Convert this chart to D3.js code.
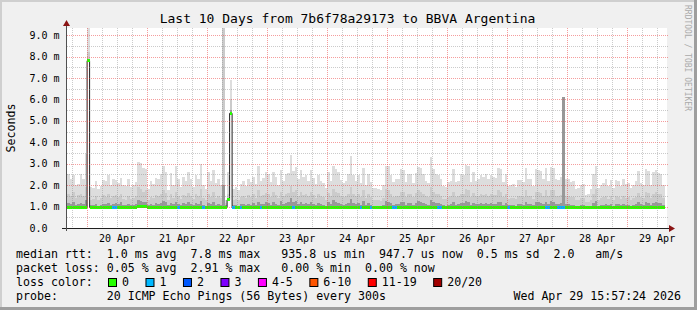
<!DOCTYPE html>
<html>
<head>
<meta charset="utf-8">
<script src="https://cdn.jsdelivr.net/npm/d3@7"></script>
<style>
  html, body { margin: 0; padding: 0; background: #f0f0f0; }
  svg { display: block; font-family: "DejaVu Sans Mono", monospace; }
  .pre { white-space: pre; }
</style>
</head>
<body>
<svg id="chart" width="697" height="310"></svg>
<script>
// Smokeping graph: last 10 days, 1 hour bins (values in ms)
const startTime = Date.UTC(2026, 3, 19, 15, 57, 24);
const endTime = Date.UTC(2026, 3, 29, 15, 57, 24);
const firstBin = Date.UTC(2026, 3, 19, 16, 0, 0);
const binMs = 3600 * 1000;

// top of the outer smoke band (max ping), one row per day
const smokeMax = [
  2.5, 2.3, 2.45, 2.0, 2.05, 2.5, 2.3, 3.45, 9.4, 1.92, 1.85, 2.2, 1.8, 1.95, 2.25, 2.2, 2.45, 2.0, 2.3, 2.25, 2.1, 2.35, 2.0, 1.95,
  2.3, 1.9, 2.0, 2.15, 3.1, 3.05, 2.8, 2.75, 1.8, 2.2, 2.05, 2.35, 2.3, 2.5, 2.9, 2.6, 1.75, 2.55, 2.0, 2.9, 2.3, 1.9, 2.4, 2.2,
  2.6, 2.3, 1.9, 2.45, 2.3, 3.0, 2.0, 1.8, 2.6, 2.2, 2.7, 2.1, 2.3, 2.0, 9.4, 1.3, 2.6, 6.9, 1.8, 1.9, 1.75, 2.05, 2.2, 1.95,
  2.3, 2.15, 2.4, 2.05, 2.9, 2.2, 2.35, 2.6, 2.5, 2.15, 2.6, 2.4, 2.0, 2.7, 2.2, 2.5, 2.55, 3.4, 2.65, 2.85, 2.3, 2.7, 2.4, 2.45,
  2.2, 2.7, 2.35, 2.05, 2.45, 2.2, 2.1, 1.85, 2.6, 2.2, 2.9, 2.75, 2.6, 2.25, 2.1, 2.2, 2.5, 3.35, 2.45, 2.2, 2.45, 2.1, 2.8, 2.0,
  2.5, 2.15, 1.85, 1.85, 1.8, 1.75, 2.0, 2.9, 2.9, 2.45, 2.15, 2.3, 2.3, 2.75, 2.7, 2.15, 2.5, 2.5, 2.1, 2.55, 2.85, 2.8, 2.5, 2.2,
  2.1, 3.3, 2.75, 2.5, 2.45, 2.3, 1.95, 1.9, 2.15, 2.2, 2.75, 2.15, 2.2, 2.5, 2.45, 2.95, 2.9, 2.15, 2.6, 2.2, 2.3, 2.45, 2.4, 2.5,
  2.3, 2.45, 2.4, 2.35, 2.8, 2.75, 2.15, 2.5, 1.95, 2.0, 2.05, 1.9, 2.25, 2.25, 2.15, 2.8, 2.3, 2.3, 1.95, 2.75, 2.7, 2.65, 2.3, 2.8,
  2.2, 2.85, 2.8, 2.3, 2.25, 2.4, 6.1, 2.3, 2.3, 2.15, 2.2, 1.8, 1.85, 2.0, 2.05, 1.55, 1.6, 1.8, 2.5, 2.9, 1.85, 2.0, 2.1, 2.3,
  1.95, 2.25, 1.85, 2.25, 2.2, 1.95, 2.3, 2.05, 2.1, 1.85, 2.0, 2.2, 2.65, 2.1, 2.0, 2.75, 2.65, 2.0, 2.6, 2.7, 2.55, 2.5, 2.0
];

// top of the second smoke band
const smokeMid = [
  1.6, 1.5, 1.7, 1.4, 1.55, 1.6, 1.5, 1.9, 8.2, 1.3, 1.35, 1.5, 1.3, 1.4, 1.55, 1.45, 1.6, 1.4, 1.5, 1.55, 1.45, 1.6, 1.35, 1.3,
  1.5, 1.35, 1.4, 1.5, 1.9, 1.8, 1.7, 1.75, 1.3, 1.45, 1.4, 1.55, 1.5, 1.6, 1.75, 1.65, 1.3, 1.6, 1.4, 1.7, 1.5, 1.35, 1.55, 1.5,
  1.65, 1.5, 1.35, 1.6, 1.5, 1.8, 1.4, 1.3, 1.6, 1.45, 1.7, 1.4, 1.5, 1.4, 9.4, 1.15, 1.6, 6.0, 1.3, 1.35, 1.3, 1.45, 1.5, 1.4,
  1.55, 1.45, 1.6, 1.4, 1.75, 1.5, 1.55, 1.65, 1.6, 1.45, 1.7, 1.55, 1.4, 1.7, 1.5, 1.6, 1.65, 1.95, 1.7, 1.75, 1.5, 1.7, 1.55, 1.6,
  1.5, 1.7, 1.55, 1.4, 1.6, 1.5, 1.45, 1.3, 1.65, 1.5, 1.8, 1.7, 1.65, 1.5, 1.45, 1.5, 1.6, 1.9, 1.6, 1.5, 1.6, 1.45, 1.75, 1.4,
  1.6, 1.45, 1.3, 1.3, 1.3, 1.25, 1.4, 1.8, 1.75, 1.6, 1.45, 1.5, 1.5, 1.7, 1.7, 1.45, 1.6, 1.6, 1.45, 1.65, 1.75, 1.7, 1.6, 1.5,
  1.45, 1.9, 1.7, 1.6, 1.6, 1.5, 1.35, 1.35, 1.45, 1.5, 1.7, 1.45, 1.5, 1.6, 1.6, 1.8, 1.75, 1.45, 1.65, 1.5, 1.5, 1.6, 1.55, 1.6,
  1.5, 1.6, 1.55, 1.55, 1.75, 1.7, 1.45, 1.6, 1.35, 1.4, 1.4, 1.35, 1.5, 1.5, 1.45, 1.75, 1.5, 1.5, 1.35, 1.7, 1.7, 1.65, 1.5, 1.75,
  1.5, 1.75, 1.75, 1.5, 1.5, 1.55, 6.1, 1.5, 1.5, 1.45, 1.45, 1.3, 1.3, 1.4, 1.4, 1.2, 1.2, 1.3, 1.6, 1.8, 1.3, 1.4, 1.45, 1.5,
  1.35, 1.5, 1.3, 1.5, 1.45, 1.35, 1.5, 1.4, 1.45, 1.3, 1.4, 1.45, 1.65, 1.45, 1.4, 1.7, 1.65, 1.4, 1.6, 1.7, 1.6, 1.6, 1.4
];

// top of the inner (darkest) smoke band
const smokeCore = [
  1.15, 1.1, 1.2, 1.05, 1.1, 1.15, 1.1, 1.3, 7.9, 1.05, 1.05, 1.1, 1.0, 1.05, 1.1, 1.1, 1.15, 1.05, 1.1, 1.15, 1.1, 1.2, 1.05, 1.05,
  1.1, 1.05, 1.05, 1.1, 1.3, 1.25, 1.2, 1.2, 1.05, 1.1, 1.05, 1.15, 1.1, 1.15, 1.25, 1.2, 1.05, 1.15, 1.1, 1.2, 1.1, 1.05, 1.15, 1.1,
  1.2, 1.1, 1.05, 1.15, 1.1, 1.25, 1.05, 1.0, 1.15, 1.1, 1.2, 1.05, 1.1, 1.05, 2.0, 1.05, 1.4, 5.5, 1.05, 1.05, 1.0, 1.1, 1.1, 1.05,
  1.1, 1.05, 1.15, 1.05, 1.2, 1.1, 1.1, 1.2, 1.15, 1.05, 1.2, 1.1, 1.05, 1.25, 1.1, 1.15, 1.2, 1.4, 1.2, 1.25, 1.1, 1.2, 1.1, 1.15,
  1.1, 1.2, 1.1, 1.05, 1.15, 1.1, 1.05, 1.0, 1.2, 1.1, 1.3, 1.2, 1.15, 1.1, 1.05, 1.1, 1.15, 1.35, 1.15, 1.1, 1.15, 1.05, 1.25, 1.05,
  1.15, 1.05, 1.0, 1.0, 1.0, 1.0, 1.05, 1.25, 1.2, 1.15, 1.05, 1.1, 1.1, 1.2, 1.2, 1.05, 1.15, 1.15, 1.05, 1.15, 1.25, 1.2, 1.15, 1.1,
  1.05, 1.3, 1.2, 1.15, 1.15, 1.1, 1.05, 1.0, 1.05, 1.1, 1.2, 1.05, 1.1, 1.15, 1.15, 1.25, 1.2, 1.05, 1.15, 1.1, 1.1, 1.15, 1.1, 1.15,
  1.1, 1.15, 1.1, 1.1, 1.2, 1.2, 1.05, 1.15, 1.05, 1.05, 1.05, 1.0, 1.1, 1.1, 1.05, 1.2, 1.1, 1.1, 1.05, 1.2, 1.2, 1.15, 1.1, 1.2,
  1.1, 1.25, 1.2, 1.1, 1.1, 1.15, 6.1, 1.1, 1.1, 1.05, 1.05, 1.0, 1.0, 1.05, 1.05, 1.0, 1.0, 1.0, 1.15, 1.25, 1.0, 1.05, 1.05, 1.1,
  1.05, 1.1, 1.0, 1.1, 1.1, 1.05, 1.1, 1.05, 1.05, 1.0, 1.05, 1.1, 1.2, 1.1, 1.05, 1.2, 1.15, 1.05, 1.15, 1.2, 1.15, 1.15, 1.05
];

// median rtt per bin
const medianRtt = [
  0.95, 0.95, 0.95, 0.95, 0.95, 0.95, 0.95, 0.95, 7.8, 0.95, 0.95, 0.95, 0.95, 0.95, 0.95, 0.95, 0.95, 0.95, 0.94, 0.94, 0.95, 0.95, 0.95, 0.95,
  0.95, 0.95, 0.95, 0.95, 1.0, 1.02, 1.02, 1.0, 0.95, 0.95, 0.95, 0.95, 0.95, 0.95, 0.95, 0.95, 0.95, 0.95, 0.95, 0.95, 0.94, 0.95, 0.95, 0.95,
  0.95, 0.95, 0.95, 0.95, 0.95, 0.95, 0.94, 0.95, 0.95, 0.95, 0.95, 0.95, 0.96, 0.96, 0.96, 0.97, 1.31, 5.35, 0.94, 0.95, 0.95, 0.94, 0.95, 0.95,
  0.95, 0.95, 0.95, 0.96, 0.95, 0.94, 0.95, 0.95, 0.95, 0.95, 0.95, 0.96, 0.97, 0.95, 0.95, 0.95, 0.95, 0.95, 0.94, 0.95, 0.95, 0.95, 0.96, 0.95,
  0.95, 0.95, 0.95, 0.95, 0.96, 0.95, 0.95, 0.95, 0.95, 0.95, 0.95, 0.95, 0.95, 0.96, 0.95, 0.95, 0.95, 0.95, 0.95, 0.95, 0.95, 0.94, 0.95, 0.95,
  0.95, 0.94, 0.95, 0.95, 0.95, 0.96, 0.97, 0.95, 0.95, 0.95, 0.94, 0.94, 0.95, 0.95, 0.96, 0.95, 0.95, 0.95, 0.97, 0.95, 0.95, 0.96, 0.95, 0.95,
  0.96, 0.95, 0.95, 0.95, 0.94, 0.94, 0.95, 0.96, 0.97, 0.95, 0.95, 0.95, 0.96, 0.95, 0.95, 0.95, 0.95, 0.97, 0.95, 0.95, 0.95, 0.95, 0.95, 0.96,
  0.95, 0.95, 0.96, 0.95, 0.95, 0.95, 0.95, 0.96, 0.94, 0.95, 0.95, 0.97, 0.95, 0.95, 0.96, 0.95, 0.95, 0.95, 0.97, 0.95, 0.95, 0.95, 0.96, 0.94,
  0.94, 0.95, 0.95, 0.96, 0.94, 0.94, 0.95, 0.96, 0.95, 0.95, 0.95, 0.96, 0.95, 0.95, 0.94, 0.95, 0.95, 0.95, 0.95, 0.96, 0.95, 0.95, 0.95, 0.95,
  0.95, 0.95, 0.95, 0.96, 0.95, 0.95, 0.95, 0.95, 0.95, 0.95, 0.95, 0.95, 0.96, 0.95, 0.95, 0.95, 0.95, 0.95, 0.95, 0.95, 0.95, 0.95, 0.95
];

// packet loss per bin, percent
const lossPct = [
  0, 0, 0, 0, 0, 0, 0, 0, 0, 0, 0, 0, 0, 0, 0, 0, 0, 0, 0.42, 0.83, 0, 0, 0, 0,
  0, 0, 0, 0, 0, 0, 0, 0, 0, 0, 0, 0, 0, 0, 0, 0, 0, 0, 0, 0, 0.42, 0, 0, 0,
  0, 0, 0, 0, 0, 0, 0.42, 0, 0, 0, 0, 0, 0, 0, 0, 0, 0, 0, 0.83, 0, 0, 0.42, 0, 0,
  0, 0, 0, 0, 0, 0.42, 0, 0, 0, 0, 0, 0, 0, 0, 0, 0, 0, 0, 0.42, 0, 0, 0, 0, 0,
  0, 0, 0, 0, 0, 0, 0, 0, 0, 0, 0, 0, 0, 0, 0, 0, 0, 0, 0, 0, 0, 0.42, 0, 0,
  0, 0.42, 0, 0, 0, 0, 0, 0, 0, 0, 0.83, 0.42, 0, 0, 0, 0, 0, 0, 0, 0, 0, 0, 0, 0,
  0, 0, 0, 0, 0.83, 0.42, 0, 0, 0, 0, 0, 0, 0, 0, 0, 0, 0, 0, 0, 0, 0, 0, 0, 0,
  0, 0, 0, 0, 0, 0, 0, 0, 0.42, 0, 0, 0, 0, 0, 0, 0, 0, 0, 0, 0, 0, 0, 0, 0.42,
  0.42, 0, 0, 0, 0.83, 2.91, 1.25, 0, 0, 0, 0, 0, 0, 0, 0, 0, 0, 0, 0, 0, 0, 0, 0, 0,
  0, 0, 0, 0, 0, 0, 0, 0, 0, 0, 0, 0, 0, 0, 0, 0, 0, 0, 0, 0, 0, 0, 0
];

const yTickValues = [0, 1, 2, 3, 4, 5, 6, 7, 8, 9];
const dayLabels = ["20 Apr", "21 Apr", "22 Apr", "23 Apr", "24 Apr", "25 Apr", "26 Apr", "27 Apr", "28 Apr", "29 Apr"];
const labelDays = [20, 21, 22, 23, 24, 25, 26, 27, 28, 29];

// smokeping loss buckets (lost pings out of 20)
const lossBuckets = [
  { label: "0", upto: 0, color: "#26ff00" },
  { label: "1", upto: 1, color: "#00b8ff" },
  { label: "2", upto: 2, color: "#0059ff" },
  { label: "3", upto: 3, color: "#7e00ff" },
  { label: "4-5", upto: 5, color: "#ff00ff" },
  { label: "6-10", upto: 10, color: "#ff5500" },
  { label: "11-19", upto: 19, color: "#ff0000" },
  { label: "20/20", upto: 20, color: "#a10000" }
];

const legendLines = [
  "median rtt:  1.0 ms avg  7.8 ms max   935.8 us min  947.7 us now  0.5 ms sd  2.0   am/s",
  "packet loss: 0.05 % avg  2.91 % max   0.00 % min  0.00 % now"
];

(function () {
  const W = 697, H = 310;
  const plot = { left: 67, right: 667, top: 28, bottom: 228 };
  const svg = d3.select("#chart");

  const x = d3.scaleUtc().domain([startTime, endTime]).range([plot.left, plot.right]);
  const y = d3.scaleLinear().domain([0, 9.33]).range([plot.bottom, plot.top]);

  // background and 3d border
  svg.append("rect").attr("width", W).attr("height", H).attr("fill", "#f0f0f0");
  svg.append("path").attr("d", `M0,0H${W}V2H2V${H}H0Z`).attr("fill", "#cfcfcf");
  svg.append("path").attr("d", `M${W},${H}H0V${H - 3}H${W - 3}V0H${W}Z`).attr("fill", "#9e9e9e");

  // canvas
  svg.append("rect")
    .attr("x", plot.left).attr("y", plot.top)
    .attr("width", plot.right - plot.left).attr("height", plot.bottom - plot.top)
    .attr("fill", "#ffffff");

  svg.append("clipPath").attr("id", "plotclip")
    .append("rect")
    .attr("x", plot.left).attr("y", plot.top)
    .attr("width", plot.right - plot.left).attr("height", plot.bottom - plot.top);

  const g = svg.append("g").attr("clip-path", "url(#plotclip)");

  const bins = smokeMax.map((v, i) => ({
    t0: firstBin + i * binMs,
    t1: firstBin + (i + 1) * binMs,
    max: v,
    mid: smokeMid[i],
    core: smokeCore[i],
    med: medianRtt[i],
    loss: lossPct[i]
  }));

  // smoke
  const bands = [
    { key: "max", color: "#dddddd" },
    { key: "mid", color: "#cbcbcb" },
    { key: "core", color: "#989898" }
  ];
  bands.forEach(b => {
    g.append("g").attr("shape-rendering", "crispEdges")
      .selectAll("rect")
      .data(bins)
      .join("rect")
      .attr("x", d => x(d.t0))
      .attr("width", d => x(d.t1) - x(d.t0))
      .attr("y", d => y(d[b.key]))
      .attr("height", d => Math.max(0, y(Math.min(d.med, d.core) - 0.03) - y(d[b.key])))
      .attr("fill", b.color);
  });

  // median line (black) + loss colored marks
  const pts = bins.map(d => [d.t0, d.med]);
  pts.push([bins[bins.length - 1].t1, bins[bins.length - 1].med]);
  g.append("path")
    .attr("d", d3.line().x(d => x(d[0])).y(d => y(d[1])).curve(d3.curveStepAfter)(pts))
    .attr("fill", "none")
    .attr("stroke", "#202020")
    .attr("stroke-width", 1);

  function lossColor(pct) {
    const lost = pct / 100 * 20;
    const b = lossBuckets.find(k => lost <= k.upto);
    return b ? b.color : lossBuckets[lossBuckets.length - 1].color;
  }

  g.append("g").attr("shape-rendering", "crispEdges")
    .selectAll("rect")
    .data(bins)
    .join("rect")
    .attr("x", d => x(d.t0))
    .attr("width", d => x(d.t1) - x(d.t0))
    .attr("y", d => y(d.med) - 1.5)
    .attr("height", 3)
    .attr("fill", d => lossColor(d.loss));

  // grid (drawn over the data like rrdtool)
  const grid = svg.append("g").attr("shape-rendering", "crispEdges");
  const minorY = d3.range(1, 19, 2).map(v => v / 2);
  grid.selectAll(".hminor").data(minorY).join("line")
    .attr("x1", plot.left).attr("x2", plot.right + 1)
    .attr("y1", d => Math.round(y(d)) + 0.5).attr("y2", d => Math.round(y(d)) + 0.5)
    .attr("stroke", "rgba(140,140,140,0.45)").attr("stroke-dasharray", "1,1");
  grid.selectAll(".hmajor").data(yTickValues.slice(1)).join("line")
    .attr("x1", plot.left).attr("x2", plot.right + 1)
    .attr("y1", d => Math.round(y(d)) + 0.5).attr("y2", d => Math.round(y(d)) + 0.5)
    .attr("stroke", "rgba(235,60,60,0.5)").attr("stroke-dasharray", "1,1");

  const sixHours = d3.utcHour.every(6).range(startTime, endTime).filter(d => d.getUTCHours() !== 0);
  const midnights = d3.utcDay.range(startTime, endTime);
  grid.selectAll(".vminor").data(sixHours).join("line")
    .attr("x1", d => Math.round(x(d)) + 0.5).attr("x2", d => Math.round(x(d)) + 0.5)
    .attr("y1", plot.top).attr("y2", plot.bottom)
    .attr("stroke", "rgba(140,140,140,0.45)").attr("stroke-dasharray", "1,1");
  grid.selectAll(".vmajor").data(midnights).join("line")
    .attr("x1", d => Math.round(x(d)) + 0.5).attr("x2", d => Math.round(x(d)) + 0.5)
    .attr("y1", plot.top).attr("y2", plot.bottom)
    .attr("stroke", "rgba(235,60,60,0.5)").attr("stroke-dasharray", "1,1");

  // axes and arrows
  svg.append("line")
    .attr("x1", 62).attr("x2", 670).attr("y1", 228.5).attr("y2", 228.5)
    .attr("stroke", "#202020");
  svg.append("line")
    .attr("x1", 66.5).attr("x2", 66.5).attr("y1", 231).attr("y2", 25)
    .attr("stroke", "#505050");
  svg.append("path").attr("d", "M669,225L675,228.5L669,232Z").attr("fill", "#8b1515");
  svg.append("path").attr("d", "M63,26L66.5,20L70,26Z").attr("fill", "#8b1515");

  // y labels
  svg.append("g").selectAll("text")
    .data(yTickValues)
    .join("text")
    .attr("class", "pre")
    .attr("x", 29.5)
    .attr("y", d => y(d) + 3.6)
    .attr("font-size", "10px")
    .attr("fill", "#000")
    .text(d => d === 0 ? "0.0" : d3.format(".1f")(d) + " m");

  // x labels at noon
  svg.append("g").selectAll("text")
    .data(labelDays)
    .join("text")
    .attr("x", d => x(Date.UTC(2026, 3, d, 12)))
    .attr("y", 242)
    .attr("text-anchor", "middle")
    .attr("font-size", "10px")
    .attr("fill", "#000")
    .text((d, i) => dayLabels[i]);

  // title
  svg.append("text")
    .attr("x", 347.5).attr("y", 23)
    .attr("text-anchor", "middle")
    .attr("font-size", "13px")
    .attr("fill", "#000")
    .text("Last 10 Days from 7b6f78a29173 to BBVA Argentina");

  // vertical labels
  svg.append("text")
    .attr("transform", "translate(15,128) rotate(-90)")
    .attr("text-anchor", "middle")
    .attr("font-size", "11.6px")
    .attr("fill", "#000")
    .text("Seconds");
  svg.append("text")
    .attr("transform", "translate(685,5) rotate(90)")
    .attr("font-size", "8px")
    .attr("fill", "#aaaaaa")
    .text("RRDTOOL / TOBI OETIKER");

  // legend
  const fs = "11.6px";
  const cw = 6.98;
  legendLines.forEach((line, i) => {
    svg.append("text").attr("class", "pre")
      .attr("x", 16).attr("y", 258 + i * 14)
      .attr("font-size", fs).attr("fill", "#000")
      .text(line);
  });
  svg.append("text").attr("class", "pre")
    .attr("x", 16).attr("y", 286)
    .attr("font-size", fs).attr("fill", "#000")
    .text("loss color:");
  let lx = 108;
  lossBuckets.forEach(b => {
    svg.append("rect")
      .attr("x", lx + 0.5).attr("y", 278.5)
      .attr("width", 8).attr("height", 8)
      .attr("fill", b.color).attr("stroke", "#000").attr("stroke-width", 1);
    svg.append("text")
      .attr("x", lx + 14).attr("y", 286)
      .attr("font-size", fs).attr("fill", "#000")
      .text(b.label);
    lx += 14 + b.label.length * cw + 16.5;
  });
  svg.append("text").attr("class", "pre")
    .attr("x", 16).attr("y", 300)
    .attr("font-size", fs).attr("fill", "#000")
    .text("probe:       20 ICMP Echo Pings (56 Bytes) every 300s");
  svg.append("text")
    .attr("x", 681).attr("y", 300)
    .attr("text-anchor", "end")
    .attr("font-size", fs).attr("fill", "#000")
    .text("Wed Apr 29 15:57:24 2026");
})();
</script>
</body>
</html>
